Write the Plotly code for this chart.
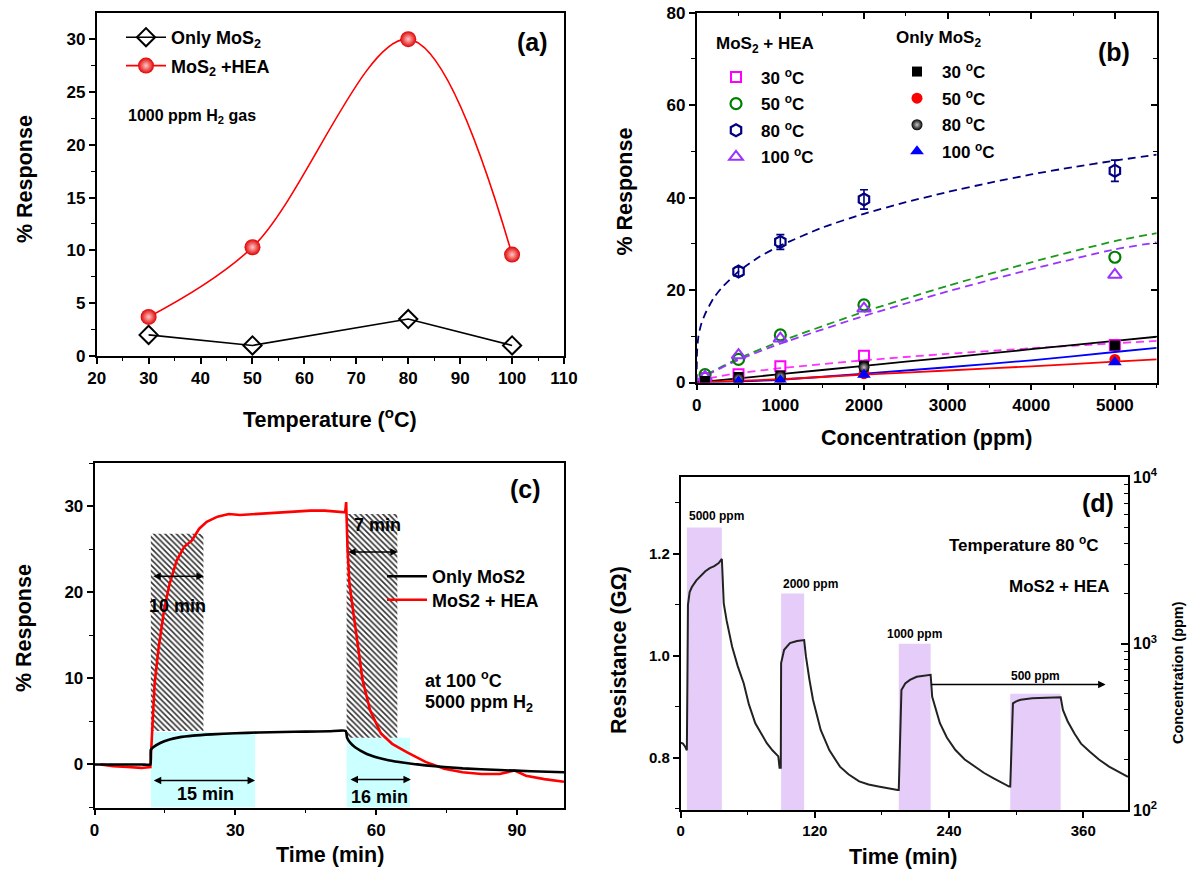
import math
import plotly.graph_objects as go

W, H = 1192, 879
FONT = "Liberation Sans, Arial, sans-serif"

# ---------------- data: panel (a) ----------------
temp_a = [30, 50, 80, 100]
resp_only_a = [2.0, 1.0, 3.5, 1.0]
resp_hea_a = [3.7, 10.3, 30.0, 9.6]

# ---------------- data: panel (b) ----------------
conc_hea30 = [100, 500, 1000, 2000, 5000]
resp_hea30 = [1.0, 1.8, 3.5, 5.8, 8.1]
conc_hea50 = [100, 500, 1000, 2000, 5000]
resp_hea50 = [1.7, 5.0, 10.3, 16.8, 27.1]
conc_hea80 = [500, 1000, 2000, 5000]
resp_hea80 = [24.0, 30.4, 39.6, 45.8]
err_hea80 = [1.0, 1.6, 2.1, 2.3]
conc_hea100 = [100, 500, 1000, 2000, 5000]
resp_hea100 = [1.2, 5.9, 9.5, 16.0, 23.3]

conc_only30 = [100, 500, 1000, 2000, 5000]
resp_only30 = [0.3, 1.2, 1.5, 3.6, 8.0]
conc_only50 = [500, 1000, 2000, 5000]
resp_only50 = [0.6, 0.9, 1.9, 5.0]
conc_only80 = [500, 1000, 2000]
resp_only80 = [0.8, 1.3, 3.3]
conc_only100 = [500, 1000, 2000, 5000]
resp_only100 = [0.2, 0.5, 1.7, 4.4]

# fitted curves
fit_hea80_x = [0, 1, 5, 20, 50, 100, 200, 300, 500, 750, 1000, 1500, 2000, 2500, 3000, 3500, 4000, 4500, 5000, 5500]
fit_hea80_y = [0, 3.7, 6.8, 9.9, 12.4, 14.8, 18.2, 20.5, 24.0, 27.2, 29.6, 33.5, 36.5, 39.0, 41.2, 43.2, 45.0, 46.6, 48.0, 49.3]
fit_hea50_x = [0, 100, 500, 1000, 2000, 3000, 4000, 5000, 5500]
fit_hea50_y = [0, 1.5, 5.2, 8.9, 15.3, 20.9, 26.0, 30.6, 32.3]
fit_hea100_x = [0, 100, 500, 1000, 2000, 3000, 4000, 5000, 5500]
fit_hea100_y = [0, 1.4, 4.9, 8.4, 14.4, 19.7, 24.5, 28.8, 30.3]
fit_hea30_x = [0, 100, 400, 1000, 2000, 3000, 4000, 5000, 5500]
fit_hea30_y = [0, 0.7, 1.75, 3.1, 4.8, 6.2, 7.4, 8.5, 9.0]
fit_only30_x = [0, 1000, 2000, 3000, 4000, 5000, 5500]
fit_only30_y = [0, 1.8, 3.6, 5.4, 7.2, 9.0, 9.9]
fit_only100_x = [0, 500, 1000, 2000, 3000, 4000, 5000, 5500]
fit_only100_y = [0, 0.2, 0.6, 1.9, 3.3, 4.8, 6.6, 7.5]
fit_only50_x = [0, 1000, 2000, 3000, 4000, 5000, 5500]
fit_only50_y = [0, 0.7, 1.7, 2.6, 3.5, 4.5, 5.0]

# ---------------- data: panel (c) ----------------
t_hea_c = [1.3, 4, 7, 10, 11.9, 12.2, 12.8, 13.6, 14.8, 16.0, 17.5, 19.1, 20.7, 22.3, 23.9, 26.2, 28.6,
           31, 34, 37, 40, 43, 46, 49, 51, 53.4, 53.6, 53.9, 54.3, 55.5, 57.1, 58.7, 61.0, 63.4, 66.6,
           70.5, 74.5, 78.4, 82.4, 86.3, 88.5, 89.5, 91.9, 95.8, 100]
r_hea_c = [0, -0.2, -0.3, -0.4, -0.3, 3.2, 9.4, 13.3, 17.9, 21.0, 23.7, 25.3, 26.0, 27.4, 28.2, 28.8, 29.1,
           29.0, 29.1, 29.2, 29.35, 29.45, 29.5, 29.5, 29.4, 29.3, 30.5, 25.0, 21.0, 16.0, 9.8, 6.3, 3.6, 2.4, 1.4,
           0.3, -0.5, -0.9, -1.1, -1.1, -0.8, -0.7, -1.3, -1.7, -2.0]
t_only_c = [0, 5, 10, 11.9, 12.0, 12.5, 14, 16, 18, 21, 25, 30, 35, 40, 45, 50, 53.5, 53.8, 54.5, 55.5,
            57.9, 60, 62.6, 66, 70.5, 78.4, 86.3, 93, 100]
r_only_c = [0, 0, 0, 0, 1.7, 2.0, 2.5, 2.9, 3.15, 3.35, 3.5, 3.62, 3.72, 3.78, 3.82, 3.86, 3.9, 3.1, 2.5, 2.0,
            1.25, 0.85, 0.5, 0.2, -0.1, -0.45, -0.65, -0.78, -0.9]
hatch_start = [12.0, 53.7]
hatch_end = [23.2, 64.5]
hatch_bottom = [3.9, 3.1]
hatch_top = [26.8, 29.1]
cyan_start = [12.0, 53.7]
cyan_end = [34.2, 67.2]
cyan_top = [3.76, 3.1]

# ---------------- data: panel (d) ----------------
t_d = [0, 2, 4, 5.5, 6.0, 6.5, 8, 10, 14, 18, 22, 26, 30, 34, 36.8, 37.2, 38.5, 41, 46, 51, 56.4, 61, 66.7, 72,
       77, 82, 87.3, 88.4,
       89.5, 89.8, 92.5, 97.7, 104, 110.4, 112, 115, 118.3, 125.2, 133, 142.4, 150, 159.6, 168, 176.8, 185, 194,
       195.0, 197.4, 200.8, 205, 211, 218, 223.5, 224.9, 231.8, 238, 245.5, 254, 262.7, 271, 279.9, 287, 293.7,
       294.7, 297.1, 300, 304, 314.3, 325, 339.8, 341.8, 346, 352.1, 358, 365.9, 374, 383.1, 391, 400]
r_d = [0.830, 0.828, 0.822, 0.815, 0.95, 1.10, 1.125, 1.135, 1.148, 1.158, 1.166, 1.172, 1.176, 1.182, 1.190, 1.170, 1.103, 1.07, 1.018, 0.98, 0.946, 0.905, 0.868, 0.848,
       0.829, 0.815, 0.803, 0.781,
       0.781, 0.986, 1.012, 1.025, 1.029, 1.031, 0.999, 0.955, 0.914, 0.855, 0.815, 0.783, 0.768, 0.754, 0.748, 0.744, 0.740, 0.737,
       0.737, 0.933, 0.946, 0.953, 0.959, 0.961, 0.963, 0.920, 0.868, 0.840, 0.816, 0.797, 0.783, 0.771, 0.760, 0.751, 0.744,
       0.744, 0.907, 0.911, 0.914, 0.917, 0.918, 0.919, 0.894, 0.872, 0.848, 0.828, 0.812, 0.797, 0.783, 0.773, 0.763]
pulse_start = [5.5, 89.8, 195.0, 294.7]
pulse_end = [36.8, 110.4, 223.5, 339.8]
pulse_conc = [5000, 2000, 1000, 500]
pulse_labels = ["5000 ppm", "2000 ppm", "1000 ppm", "500 ppm"]
pulse_label_align = ["left", "left", "center", "center"]
pulse_label_lift = [2, 1, 1, 9]

# ---------------- helpers ----------------
def dom_x(l, r):
    return [l / W, r / W]

def dom_y(t, b):
    return [1 - b / H, 1 - t / H]

def px(x):
    return x / W

def py(y):
    return 1 - y / H

def tfont(size):
    return dict(family=FONT, size=size, color="black", weight="bold")

def axis(**kw):
    base = dict(showline=True, linecolor="black", linewidth=1.6, mirror=True,
                ticks="outside", ticklen=6, tickwidth=1.5, tickcolor="black",
                showgrid=False, zeroline=False, automargin=False,
                tickfont=tfont(17))
    base.update(kw)
    return base

def minor(d, direction="outside"):
    return dict(dtick=d, ticks=direction, ticklen=3.5, tickwidth=1.3, tickcolor="black")

def leg(x, y, size, gap=0):
    return dict(x=px(x), y=py(y), xanchor="left", yanchor="top", bgcolor="rgba(0,0,0,0)",
                font=tfont(size), itemwidth=40, tracegroupgap=gap)

fig = go.Figure()

# ================= panel (a) =================
fig.add_trace(go.Scatter(x=temp_a, y=resp_only_a, mode="lines+markers", name="Only MoS<sub>2</sub>",
                         line=dict(color="black", width=1.6),
                         marker=dict(symbol="diamond-open", size=14, color="black", line=dict(width=2)),
                         xaxis="x", yaxis="y", legend="legend", legendgroup="a1"))
fig.add_trace(go.Scatter(x=temp_a, y=resp_hea_a, mode="lines+markers", name="MoS<sub>2</sub> +HEA",
                         line=dict(color="red", width=1.6, shape="spline", smoothing=1.0),
                         marker=dict(symbol="circle", size=16, color="#e00000",
                                     gradient=dict(type="radial", color="#ffc8c8"),
                                     line=dict(width=0)),
                         xaxis="x", yaxis="y", legend="legend", legendgroup="a2"))

# ================= panel (b) =================
fits = [
    (fit_hea80_x, fit_hea80_y, "#000080", "dash"),
    (fit_hea50_x, fit_hea50_y, "#1a9a1a", "dash"),
    (fit_hea100_x, fit_hea100_y, "#9933ff", "dash"),
    (fit_hea30_x, fit_hea30_y, "#ff33ff", "dash"),
    (fit_only30_x, fit_only30_y, "black", "solid"),
    (fit_only100_x, fit_only100_y, "#0000ff", "solid"),
    (fit_only50_x, fit_only50_y, "#ff0000", "solid"),
]
for fx, fy, col, dash in fits:
    fig.add_trace(go.Scatter(x=fx, y=fy, mode="lines", showlegend=False, hoverinfo="skip",
                             line=dict(color=col, width=1.8, dash="8px,5px" if dash == "dash" else "solid",
                                       shape="spline", smoothing=0.6),
                             xaxis="x2", yaxis="y2"))

hea_sets = [
    (conc_hea30, resp_hea30, "30 <sup>o</sup>C", dict(symbol="square-open", color="#ff00ff", size=10, line=dict(width=2)), None),
    (conc_hea50, resp_hea50, "50 <sup>o</sup>C", dict(symbol="circle-open", color="#008000", size=11, line=dict(width=2.2)), None),
    (conc_hea80, resp_hea80, "80 <sup>o</sup>C", dict(symbol="hexagon-open", color="#000080", size=12, line=dict(width=2.2)), err_hea80),
    (conc_hea100, resp_hea100, "100 <sup>o</sup>C", dict(symbol="triangle-up-open", color="#9933ff", size=12, line=dict(width=2)), None),
]
for i, (cx, cy, nm, mk, er) in enumerate(hea_sets):
    tr = go.Scatter(x=cx, y=cy, mode="markers", name=nm, marker=mk, xaxis="x2", yaxis="y2",
                    legend="legend2", legendgroup=f"b{i}")
    if er is not None:
        tr.error_y = dict(type="data", array=er, color="#000080", thickness=1.6, width=4)
    fig.add_trace(tr)

only_sets = [
    (conc_only30, resp_only30, "30 <sup>o</sup>C", dict(symbol="square", color="black", size=10)),
    (conc_only50, resp_only50, "50 <sup>o</sup>C", dict(symbol="circle", color="#ff0000", size=11)),
    (conc_only80, resp_only80, "80 <sup>o</sup>C", dict(symbol="circle", color="black", size=11,
                                                      gradient=dict(type="radial", color="#c8c8c8"))),
    (conc_only100, resp_only100, "100 <sup>o</sup>C", dict(symbol="triangle-up", color="#0000ff", size=12)),
]
for i, (cx, cy, nm, mk) in enumerate(only_sets):
    fig.add_trace(go.Scatter(x=cx, y=cy, mode="markers", name=nm, marker=mk, xaxis="x2", yaxis="y2",
                             legend="legend3", legendgroup=f"c{i}"))

# dummy traces to activate the inner-tick overlay axes of panel (b)
fig.add_trace(go.Scatter(x=[None], y=[None], xaxis="x5", yaxis="y2", showlegend=False, hoverinfo="skip"))
fig.add_trace(go.Scatter(x=[None], y=[None], xaxis="x2", yaxis="y6", showlegend=False, hoverinfo="skip"))

# ================= panel (c) =================
for s, e, t in zip(cyan_start, cyan_end, cyan_top):
    fig.add_trace(go.Scatter(x=[s, e, e, s, s], y=[-5, -5, t, t, -5], mode="lines", fill="toself",
                             fillcolor="#ccffff", line=dict(width=0), showlegend=False, hoverinfo="skip",
                             xaxis="x3", yaxis="y3"))
for s, e, b, t in zip(hatch_start, hatch_end, hatch_bottom, hatch_top):
    fig.add_trace(go.Scatter(x=[s, e, e, s, s], y=[b, b, t, t, b], mode="lines", fill="toself",
                             fillcolor="white",
                             fillpattern=dict(shape="\\", fgcolor="#333333", bgcolor="white", size=4, solidity=0.4),
                             line=dict(width=0), showlegend=False, hoverinfo="skip",
                             xaxis="x3", yaxis="y3"))
fig.add_trace(go.Scatter(x=t_hea_c, y=r_hea_c, mode="lines", name="MoS2 + HEA",
                         line=dict(color="red", width=2.6), xaxis="x3", yaxis="y3",
                         legend="legend5"))
fig.add_trace(go.Scatter(x=t_only_c, y=r_only_c, mode="lines", name="Only MoS2",
                         line=dict(color="black", width=2.6, shape="spline", smoothing=0.5),
                         xaxis="x3", yaxis="y3", legend="legend4"))

# ================= panel (d) =================
centers = [(s + e) / 2 for s, e in zip(pulse_start, pulse_end)]
widths = [e - s for s, e in zip(pulse_start, pulse_end)]
fig.add_trace(go.Bar(x=centers, y=pulse_conc, width=widths, marker=dict(color="#e6cdf9", line=dict(width=0)),
                     showlegend=False, hoverinfo="skip", xaxis="x4", yaxis="y4"))
fig.add_trace(go.Scatter(x=t_d, y=r_d, mode="lines", line=dict(color="#222222", width=2),
                         showlegend=False, xaxis="x4", yaxis="y5"))

# ================= layout =================
layout = dict(
    width=W, height=H, template="none",
    paper_bgcolor="white", plot_bgcolor="rgba(0,0,0,0)",
    margin=dict(l=0, r=0, t=0, b=0, pad=0),
    font=dict(family=FONT, color="black"),
    showlegend=True,
    # (a)
    xaxis=axis(domain=dom_x(96.7, 564), range=[20, 110], dtick=10, tick0=20, minor=minor(5), anchor="y"),
    yaxis=axis(domain=dom_y(13.3, 356), range=[0, 32.45], dtick=5, tick0=0, minor=minor(2.5), anchor="x"),
    # (b)
    xaxis2=axis(domain=dom_x(696.7, 1156.7), range=[0, 5500], dtick=1000, tick0=0, minor=minor(500), anchor="y2"),
    yaxis2=axis(domain=dom_y(12.7, 382.5), range=[0, 80], dtick=20, tick0=0, minor=minor(10), anchor="x2"),
    xaxis5=dict(overlaying="x2", side="top", anchor="y2", range=[0, 5500], dtick=1000, tick0=0,
                ticks="inside", ticklen=6, tickwidth=1.5, tickcolor="black", showticklabels=False,
                showline=False, showgrid=False, zeroline=False, minor=minor(500, "inside")),
    yaxis6=dict(overlaying="y2", side="right", anchor="x2", range=[0, 80], dtick=20, tick0=0,
                ticks="inside", ticklen=6, tickwidth=1.5, tickcolor="black", showticklabels=False,
                showline=False, showgrid=False, zeroline=False, minor=minor(10, "inside")),
    # (c)
    xaxis3=axis(domain=dom_x(94.5, 564), range=[0, 100], dtick=30, tick0=0, minor=minor(15), anchor="y3"),
    yaxis3=axis(domain=dom_y(463.3, 807.5), range=[-5, 35], dtick=10, tick0=0, minor=minor(5), anchor="x3"),
    # (d)
    xaxis4=axis(domain=dom_x(680.7, 1128), range=[0, 400], dtick=120, tick0=0, minor=minor(60), anchor="y4",
                tickfont=tfont(15)),
    yaxis4=dict(domain=dom_y(477.3, 810), type="log", range=[2, 4], side="right", anchor="x4",
                showline=True, linecolor="black", linewidth=1.6, mirror=False, showgrid=False, zeroline=False,
                ticks="inside", ticklen=7, tickwidth=1.5, tickcolor="black", automargin=False,
                tickvals=[100, 1000, 10000],
                ticktext=["10<sup>2</sup>", "10<sup>3</sup>", "10<sup>4</sup>"],
                tickfont=tfont(16),
                minor=dict(ticks="inside", ticklen=4, tickwidth=1.2, tickcolor="black", dtick="D1")),
    yaxis5=dict(overlaying="y4", side="left", anchor="x4", range=[0.698, 1.35], dtick=0.2, tick0=0.8,
                tickformat=".1f", showline=True, linecolor="black", linewidth=1.6, showgrid=False,
                zeroline=False, ticks="outside", ticklen=6, tickwidth=1.5, tickcolor="black",
                automargin=False, tickfont=tfont(15), minor=minor(0.1)),
    legend=leg(121, 19, 18, 2),
    legend2=leg(711, 59.5, 17, 1.5),
    legend3=leg(892, 54, 17, 1.5),
    legend4=leg(382, 558, 18),
    legend5=leg(382, 581.5, 18),
)
fig.update_layout(**layout)

# ---------------- annotations ----------------
ann = []
def text(x, y, s, size=18, xref="paper", yref="paper", xanchor="center", angle=0, yanchor="middle", yshift=0):
    ann.append(dict(x=x, y=y, xref=xref, yref=yref, text=s, showarrow=False, font=tfont(size),
                    xanchor=xanchor, yanchor=yanchor, textangle=angle, yshift=yshift))

def arrow(x0, x1, y, xref, yref, both=True):
    ann.append(dict(x=x1, y=y, ax=x0, ay=y, xref=xref, yref=yref, axref=xref, ayref=yref, text="",
                    showarrow=True, arrowhead=2, startarrowhead=2, arrowsize=1, arrowwidth=1.5,
                    arrowcolor="black", arrowside="end+start" if both else "end",
                    startstandoff=0, standoff=0))

# axis titles
text(px(25), py(179), "% Response", 21.5, angle=-90)
text(px(330), py(418), "Temperature (<sup>o</sup>C)", 21.5)
text(px(624.5), py(192), "% Response", 21.5, angle=-90)
text(px(926), py(438), "Concentration (ppm)", 21.5)
text(px(24), py(628), "% Response", 21.5, angle=-90)
text(px(330), py(855), "Time (min)", 21.5)
text(px(619), py(650), "Resistance (G\u03a9)", 21.5, angle=-90)
text(px(903), py(857), "Time (min)", 21.5)
text(px(1178), py(673), "Concentration (ppm)", 14.5, angle=-90)

# legend headers of panel (b)
text(px(713.5), py(45), "MoS<sub>2</sub> + HEA", 17, xanchor="left")
text(px(894), py(39.3), "Only MoS<sub>2</sub>", 17, xanchor="left")

# panel (a)
text(104, 29.7, "(a)", 25, "x", "y")
text(25.6, 22.65, "1000 ppm H<sub>2</sub> gas", 16, "x", "y", xanchor="left")
# panel (b)
text(4990, 71.6, "(b)", 25, "x2", "y2")
# panel (c)
text(91.9, 32.05, "(c)", 25, "x3", "y3")
text(70.0, 9.84, "at 100 <sup>o</sup>C", 18, "x3", "y3", xanchor="left")
text(70.0, 7.05, "5000 ppm H<sub>2</sub>", 18, "x3", "y3", xanchor="left")
text(17.6, 18.4, "10 min", 18, "x3", "y3")
text(60.2, 27.8, "7 min", 18, "x3", "y3")
text(23.7, -3.41, "15 min", 18, "x3", "y3")
text(60.8, -3.8, "16 min", 18, "x3", "y3")
arrow(12.2, 23.3, 21.86, "x3", "y3")
arrow(53.7, 64.6, 24.7, "x3", "y3")
arrow(12.3, 34.2, -1.86, "x3", "y3")
arrow(54.2, 67.4, -1.74, "x3", "y3")
# panel (d)
for s, c, conc, lab, al, lift in zip(pulse_start, centers, pulse_conc, pulse_labels,
                                     pulse_label_align, pulse_label_lift):
    text(s if al == "left" else c, math.log10(conc), lab, 12, "x4", "y4",
         xanchor=al, yanchor="bottom", yshift=lift)
text(372.8, 1.299, "(d)", 25, "x4", "y5")
text(307.4, 1.219, "Temperature 80 <sup>o</sup>C", 17, "x4", "y5")
text(338.7, 1.136, "MoS2 + HEA", 17, "x4", "y5")
arrow(222.5, 380, 0.944, "x4", "y5", both=False)

fig.update_layout(annotations=ann)
fig.write_html("out.html", post_script="document.body.style.margin='0px';",
               config={"displayModeBar": False})
